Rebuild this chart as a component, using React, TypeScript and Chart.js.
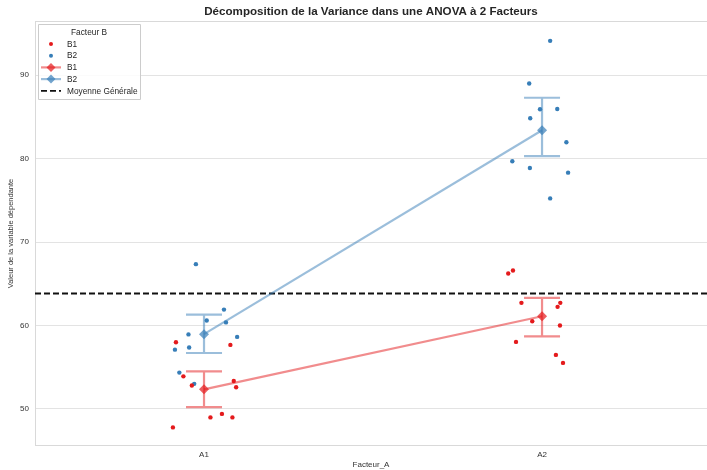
import React, { useEffect, useRef } from "react";
import { Chart, registerables } from "chart.js";

Chart.register(...registerables);

const categories = ["A1", "A2"];
const yTicks = [50, 60, 70, 80, 90];

// Raw observations (value) and horizontal jitter (in category units)
const b1A1Values = [57.98, 57.67, 53.9, 52.8, 53.35, 52.6, 48.98, 49.4, 48.98, 47.78];
const b1A1Jitter = [-0.083, 0.078, -0.061, -0.036, 0.088, 0.095, 0.019, 0.053, 0.084, -0.092];
const b2A1Values = [67.35, 61.9, 60.6, 60.37, 58.93, 58.63, 57.1, 57.35, 54.35, 53.0];
const b2A1Jitter = [-0.024, 0.059, 0.008, 0.065, -0.046, 0.098, -0.086, -0.044, -0.073, -0.029];
const b1A2Values = [66.23, 66.59, 62.71, 62.71, 62.23, 60.5, 59.99, 58.03, 56.47, 55.51];
const b1A2Jitter = [-0.1, -0.086, -0.061, 0.054, 0.046, -0.029, 0.053, -0.077, 0.041, 0.062];
const b2A2Values = [94.12, 89.0, 85.92, 85.95, 84.84, 81.96, 79.68, 78.87, 78.32, 75.23];
const b2A2Jitter = [0.024, -0.038, -0.006, 0.045, -0.035, 0.072, -0.088, -0.036, 0.077, 0.024];

// Group means and confidence interval bounds
const b1Means = [52.34, 61.1];
const b1Low = [50.2, 58.7];
const b1High = [54.5, 63.3];
const b2Means = [58.96, 83.4];
const b2Low = [56.7, 80.3];
const b2High = [61.3, 87.3];

const grandMean = 63.95;

const RED = "#e41a1c";
const BLUE = "#377eb8";
const RED_LINE = "rgba(228,26,28,0.5)";
const BLUE_LINE = "rgba(55,126,184,0.5)";
const RED_MARK = "rgba(228,26,28,0.7)";
const BLUE_MARK = "rgba(55,126,184,0.7)";

const FONT = "'Liberation Sans', Arial, sans-serif";

function pts(values: number[], jitter: number[], cat: number) {
  return values.map((v, i) => ({ x: cat + jitter[i], y: v }));
}

const errorBarPlugin = {
  id: "errorBars",
  afterDatasetsDraw(chart: any) {
    const { ctx, scales } = chart;
    const xs = scales.x;
    const ys = scales.y;
    const groups = [
      { low: b1Low, high: b1High, color: RED_LINE },
      { low: b2Low, high: b2High, color: BLUE_LINE },
    ];
    ctx.save();
    for (const g of groups) {
      ctx.strokeStyle = g.color;
      ctx.lineWidth = 2.2;
      for (let i = 0; i < categories.length; i++) {
        const px = xs.getPixelForValue(i);
        const yl = ys.getPixelForValue(g.low[i]);
        const yh = ys.getPixelForValue(g.high[i]);
        const half = 18;
        ctx.beginPath();
        ctx.moveTo(px, yl);
        ctx.lineTo(px, yh);
        ctx.moveTo(px - half, yl);
        ctx.lineTo(px + half, yl);
        ctx.moveTo(px - half, yh);
        ctx.lineTo(px + half, yh);
        ctx.stroke();
      }
    }
    ctx.restore();
  },
};

const framePlugin = {
  id: "frameTitleLegend",
  beforeDatasetsDraw(chart: any) {
    const { ctx, chartArea, scales } = chart;
    ctx.save();
    ctx.strokeStyle = "#d9d9d9";
    ctx.lineWidth = 1;
    ctx.strokeRect(chartArea.left + 0.5, chartArea.top + 0.5, chartArea.right - chartArea.left + 2, chartArea.bottom - chartArea.top - 1);
    // grand mean line
    const y = Math.round(scales.y.getPixelForValue(grandMean)) + 0.5;
    ctx.strokeStyle = "#111";
    ctx.lineWidth = 1.8;
    ctx.setLineDash([6, 3]);
    ctx.beginPath();
    ctx.moveTo(chartArea.left, y);
    ctx.lineTo(chartArea.right, y);
    ctx.stroke();
    ctx.restore();
  },
  afterDraw(chart: any) {
    const { ctx, chartArea } = chart;
    ctx.save();
    // title
    ctx.fillStyle = "#262626";
    ctx.font = `bold 11.6px ${FONT}`;
    ctx.textAlign = "center";
    ctx.textBaseline = "middle";
    ctx.fillText("Décomposition de la Variance dans une ANOVA à 2 Facteurs", (chartArea.left + chartArea.right) / 2, 12);

    // legend
    const lx = chartArea.left + 3;
    const ly = chartArea.top + 3;
    const w = 102;
    const h = 75;
    ctx.fillStyle = "rgba(255,255,255,0.85)";
    ctx.strokeStyle = "#cccccc";
    ctx.lineWidth = 1;
    ctx.beginPath();
    ctx.rect(lx + 0.5, ly + 0.5, w, h);
    ctx.fill();
    ctx.stroke();
    ctx.fillStyle = "#262626";
    ctx.font = `8.3px ${FONT}`;
    ctx.textAlign = "center";
    ctx.fillText("Facteur B", lx + 51, ly + 9);
    const rows = [
      { kind: "dot", color: RED, label: "B1" },
      { kind: "dot", color: BLUE, label: "B2" },
      { kind: "line", color: RED_LINE, mark: RED_MARK, label: "B1" },
      { kind: "line", color: BLUE_LINE, mark: BLUE_MARK, label: "B2" },
      { kind: "dash", color: "#111", label: "Moyenne Générale" },
    ];
    ctx.textAlign = "left";
    rows.forEach((r: any, i) => {
      const cy = ly + 20 + i * 11.7;
      const mx = lx + 13;
      if (r.kind === "dot") {
        ctx.fillStyle = r.color;
        ctx.beginPath();
        ctx.arc(mx, cy, 2, 0, Math.PI * 2);
        ctx.fill();
      } else if (r.kind === "line") {
        ctx.strokeStyle = r.color;
        ctx.lineWidth = 2.2;
        ctx.beginPath();
        ctx.moveTo(mx - 10, cy);
        ctx.lineTo(mx + 10, cy);
        ctx.stroke();
        ctx.fillStyle = r.mark;
        ctx.beginPath();
        ctx.moveTo(mx, cy - 4.5);
        ctx.lineTo(mx + 4.5, cy);
        ctx.lineTo(mx, cy + 4.5);
        ctx.lineTo(mx - 4.5, cy);
        ctx.closePath();
        ctx.fill();
      } else {
        ctx.strokeStyle = r.color;
        ctx.lineWidth = 1.8;
        ctx.setLineDash([6, 3]);
        ctx.beginPath();
        ctx.moveTo(mx - 10, cy);
        ctx.lineTo(mx + 10, cy);
        ctx.stroke();
        ctx.setLineDash([]);
      }
      ctx.fillStyle = "#262626";
      ctx.fillText(r.label, lx + 29, cy + 0.5);
    });
    ctx.restore();
  },
};

export default function App() {
  const ref = useRef<HTMLCanvasElement | null>(null);
  useEffect(() => {
    document.body.style.margin = "0";
    const chart = new Chart(ref.current as HTMLCanvasElement, {
      type: "scatter",
      data: {
        datasets: [
          {
            type: "line",
            label: "B1 mean",
            data: b1Means.map((v, i) => ({ x: i, y: v })),
            borderColor: RED_LINE,
            borderWidth: 2.2,
            pointStyle: "rectRot",
            pointRadius: 5,
            pointBackgroundColor: RED_MARK,
            pointBorderWidth: 0,
            showLine: true,
            order: 2,
          } as any,
          {
            type: "line",
            label: "B2 mean",
            data: b2Means.map((v, i) => ({ x: i, y: v })),
            borderColor: BLUE_LINE,
            borderWidth: 2.2,
            pointStyle: "rectRot",
            pointRadius: 5,
            pointBackgroundColor: BLUE_MARK,
            pointBorderWidth: 0,
            showLine: true,
            order: 2,
          } as any,
          {
            label: "B1",
            data: [...pts(b1A1Values, b1A1Jitter, 0), ...pts(b1A2Values, b1A2Jitter, 1)],
            backgroundColor: RED,
            borderWidth: 0,
            pointRadius: 2.2,
            order: 1,
          },
          {
            label: "B2",
            data: [...pts(b2A1Values, b2A1Jitter, 0), ...pts(b2A2Values, b2A2Jitter, 1)],
            backgroundColor: BLUE,
            borderWidth: 0,
            pointRadius: 2.2,
            order: 1,
          },
        ],
      },
      options: {
        animation: false,
        responsive: false,
        maintainAspectRatio: false,
        layout: { autoPadding: false, padding: { top: 21, right: 0, bottom: 0, left: 6 } },
        plugins: {
          legend: { display: false },
          tooltip: { enabled: false },
          title: { display: false },
        },
        scales: {
          x: {
            type: "linear",
            min: -0.5,
            max: 1.488,
            afterBuildTicks: (s: any) => {
              s.ticks = categories.map((_, i) => ({ value: i }));
            },
            afterFit: (s: any) => {
              s.height = 24;
              s.paddingLeft = 0;
              s.paddingRight = 0;
            },
            ticks: {
              callback: (v: any) => categories[v] ?? "",
              color: "#333",
              font: { size: 8, family: FONT },
              padding: 4,
              maxRotation: 0,
            },
            grid: { display: false, drawTicks: false },
            border: { display: false },
            title: {
              display: true,
              text: "Facteur_A",
              color: "#333",
              font: { size: 8, family: FONT },
              padding: { top: 2, bottom: 0 },
            },
          },
          y: {
            min: 45.55,
            max: 96.5,
            afterBuildTicks: (s: any) => {
              s.ticks = yTicks.map((v) => ({ value: v }));
            },
            afterFit: (s: any) => {
              s.width = 29;
              s.paddingTop = 0;
              s.paddingBottom = 0;
            },
            ticks: {
              color: "#333",
              font: { size: 8, family: FONT },
              padding: 6,
            },
            grid: { color: "#e3e3e3", lineWidth: 1, drawTicks: false },
            border: { display: false },
            title: {
              display: true,
              text: "Valeur de la variable dépendante",
              color: "#333",
              font: { size: 7.5, family: FONT },
              padding: { top: 0, bottom: 2 },
            },
          },
        },
      },
      plugins: [framePlugin, errorBarPlugin],
    });
    return () => chart.destroy();
  }, []);
  return (
    <div style={{ position: "absolute", left: 0, top: 0, width: 707, height: 470 }}>
      <canvas ref={ref} width={707} height={470} style={{ width: 707, height: 470 }} />
    </div>
  );
}
